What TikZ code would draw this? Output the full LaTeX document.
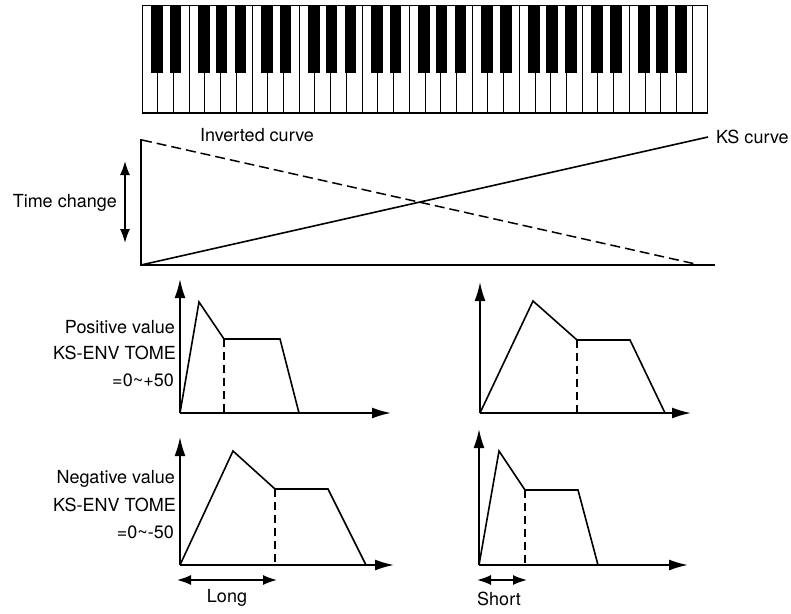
\documentclass[tikz,border=0pt]{standalone}
\usepackage{fontspec}
\setmainfont{TeX Gyre Heros}
\usetikzlibrary{arrows.meta}
\begin{document}
\begin{tikzpicture}[x=1pt,y=-1pt,
  lbl/.style={font=\fontsize{18}{21}\selectfont, inner sep=0pt},
  ax/.style={line width=1.8pt},
  axarrow/.style={line width=1.8pt,-{Latex[length=19pt,width=11pt]}},
  dbl/.style={line width=1.6pt,{Latex[length=14pt,width=10pt]}-{Latex[length=14pt,width=10pt]}},
  env/.style={line width=1.6pt, line join=miter},
  dsh/.style={line width=1.4pt, dash pattern=on 8pt off 5pt},
  invdash/.style={line width=1.5pt, dash pattern=on 10pt off 5pt},
  wkey/.style={line width=0.9pt},
  ]
\useasboundingbox (0,0) rectangle (791,613);
% keyboard
\foreach \i in {0,...,35} \draw[wkey] ({142+\i*15.72},5) rectangle ++(15.72,108);
\coordinate (kbl) at (142,113); \coordinate (kbr) at (708,113);
\draw[line width=1.8pt] (kbl) -- (kbr);
\foreach \o in {0,...,4} \foreach \c in {15,33.5,62,79.5,98.5}
  \fill ({142+\o*110.04+\c-5.9},5) rectangle ++(11.8,68);
% time change graph
\coordinate (O) at (141,265); \coordinate (Ytop) at (141,139); \coordinate (Xend) at (715,265);
\draw[ax] (Ytop) -- (O) -- (Xend);
\coordinate (ksend) at (708,137);
\draw[line width=1.6pt] (O) -- (ksend);
\coordinate (invstart) at (142,140); \coordinate (invend) at (700,265);
\draw[invdash] (invstart) -- (invend);
\node[lbl, anchor=west] (ks) at (716,137) {KS curve};
\node[lbl] (inv) at (257,135) {Inverted curve};
\node[lbl, anchor=east] (tc) at (117,203) {Time change};
\coordinate (tca) at (125,161); \coordinate (tcb) at (125,243);
\draw[dbl] (tca) -- (tcb);
% envelope 1
\coordinate (a1) at (180,413);
\coordinate (a1y) at (180,279); \coordinate (a1x) at (391,413);
\draw[axarrow] (a1) -- (a1y);
\draw[axarrow] (a1) -- (a1x);
\coordinate (p1) at (199,302); \coordinate (s1) at (224,339); \coordinate (r1) at (280,339); \coordinate (e1) at (299,413);
\coordinate (d1) at (224,413);
\draw[env] (a1) -- (p1) -- (s1) -- (r1) -- (e1);
\draw[dsh] (s1) -- (d1);
\node[lbl, anchor=east] (pv) at (175,327) {Positive value};
\node[lbl, anchor=east] (ksp) at (176,353) {KS-ENV TOME};
\node[lbl, anchor=east] (rp) at (174,380) {=0\textasciitilde+50};
% envelope 2
\coordinate (a2) at (480,413);
\coordinate (a2y) at (480,282); \coordinate (a2x) at (691,413);
\draw[axarrow] (a2) -- (a2y);
\draw[axarrow] (a2) -- (a2x);
\coordinate (p2) at (533,301); \coordinate (s2) at (577,340); \coordinate (r2) at (630,340); \coordinate (e2) at (665,413);
\coordinate (d2) at (577,413);
\draw[env] (a2) -- (p2) -- (s2) -- (r2) -- (e2);
\draw[dsh] (s2) -- (d2);
% envelope 3
\coordinate (a3) at (180,565);
\coordinate (a3y) at (180,437); \coordinate (a3x) at (394,565);
\draw[axarrow] (a3) -- (a3y);
\draw[axarrow] (a3) -- (a3x);
\coordinate (p3) at (233,451); \coordinate (s3) at (275,489); \coordinate (r3) at (328,489); \coordinate (e3) at (366,565);
\coordinate (d3) at (275,565);
\draw[env] (a3) -- (p3) -- (s3) -- (r3) -- (e3);
\draw[dsh] (s3) -- (d3);
\node[lbl, anchor=east] (nv) at (175,479) {Negative value};
\node[lbl, anchor=east] (ksn) at (176,505) {KS-ENV TOME};
\node[lbl, anchor=east] (rn) at (174,532) {=0\textasciitilde-50};
\coordinate (la) at (177,580); \coordinate (lb) at (277,580);
\draw[dbl] (la) -- (lb);
\node[lbl] (long) at (227,598) {Long};
% envelope 4
\coordinate (a4) at (479,565);
\coordinate (a4y) at (479,429); \coordinate (a4x) at (688,565);
\draw[axarrow] (a4) -- (a4y);
\draw[axarrow] (a4) -- (a4x);
\coordinate (p4) at (499,451); \coordinate (s4) at (525,490); \coordinate (r4) at (578,490); \coordinate (e4) at (598,565);
\coordinate (d4) at (525,565);
\draw[env] (a4) -- (p4) -- (s4) -- (r4) -- (e4);
\draw[dsh] (s4) -- (d4);
\coordinate (sa) at (477,580); \coordinate (sb) at (527,580);
\draw[dbl] (sa) -- (sb);
\node[lbl] (short) at (499,599) {Short};
\end{tikzpicture}
\end{document}
